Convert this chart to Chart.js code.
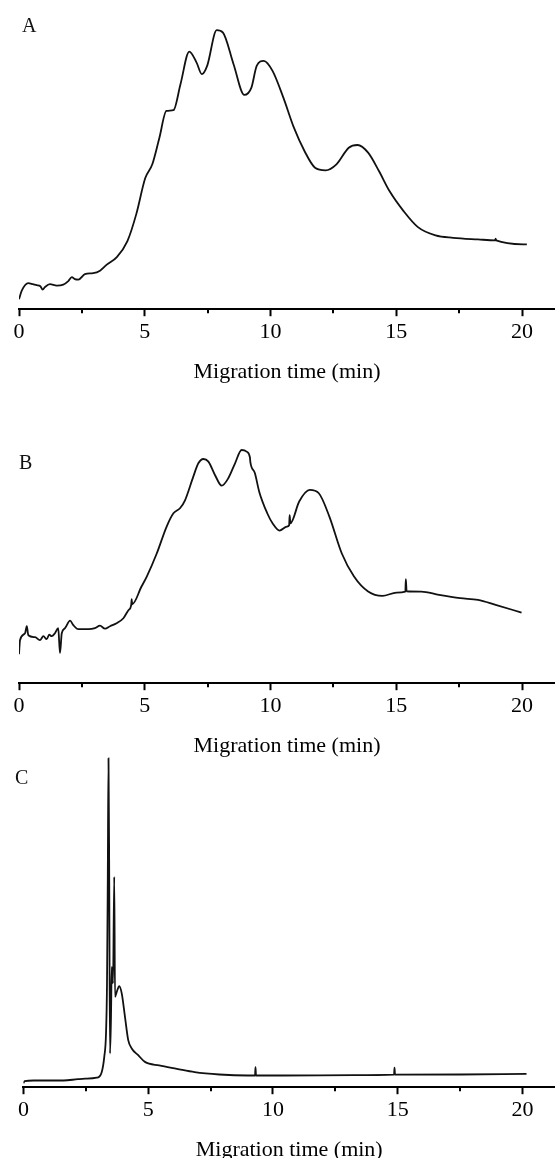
<!DOCTYPE html>
<html>
<head>
<meta charset="utf-8">
<script src="https://cdn.jsdelivr.net/npm/chart.js@4.4.1/dist/chart.umd.min.js"></script>
<style>
  html, body { margin: 0; padding: 0; background: #fff; overflow: hidden; }
  #page { position: relative; width: 555px; height: 1158px; overflow: hidden; background: #fff; }
  #page canvas { position: absolute; left: 0; }
  .panel-label { position: absolute; font-family: "Liberation Serif", "Times New Roman", serif; font-size: 20px; line-height: 1; color: #111; }
</style>
</head>
<body>
<div id="page">
  <canvas id="chartA" width="555" height="389" style="top:0px"></canvas>
  <canvas id="chartB" width="555" height="373" style="top:390px"></canvas>
  <canvas id="chartC" width="555" height="417" style="top:750px"></canvas>
  <div class="panel-label" style="left:22px; top:15px">A</div>
  <div class="panel-label" style="left:19px; top:452px">B</div>
  <div class="panel-label" style="left:15px; top:767px">C</div>
</div>
<script>
// electropherograms: migration time (min) vs detector signal (arbitrary units)
const timeA = [0, 0.11, 0.37, 0.55, 0.70, 0.85, 0.94, 1.03, 1.23, 1.50, 1.76, 1.96, 2.10, 2.22, 2.36, 2.62, 2.95,
  3.22, 3.49, 3.89, 4.31, 4.66, 5.02, 5.30, 5.58, 5.86, 6.14, 6.42, 6.77, 7.06, 7.27, 7.48, 7.86, 8.11, 8.53,
  8.96, 9.24, 9.45, 9.73, 10.08, 10.51, 10.93, 11.35, 11.77, 12.19, 12.62, 13.11, 13.46, 13.88, 14.31, 14.73,
  15.29, 15.86, 16.56, 17.26, 18.25, 18.93, 18.95, 18.97, 20.19];
const signalA = [10, 18.5, 26, 25, 24, 23, 19.5, 22, 25, 23.5, 24.5, 28, 32, 30, 29.5, 35, 36,
  38.5, 44.5, 52, 68, 94.7, 131, 144.7, 171, 198, 198.7, 224.7, 257.3, 246.3, 234.7, 243, 278.7, 276.3, 244.7,
  214, 221.3, 243, 248, 238, 211.3, 181.3, 158, 141.3, 138.7, 144.7, 161.3, 164, 156.3, 138, 118,
  98, 82, 73.7, 71.3, 69.7, 68.8, 70.5, 68.8, 64.7];

const timeB = [0, 0.04, 0.24, 0.31, 0.37, 0.64, 0.83, 0.97, 1.10, 1.20, 1.30, 1.43, 1.56, 1.63, 1.70, 1.83,
  2.03, 2.16, 2.36, 2.76, 3.02, 3.22, 3.42, 3.62, 3.88, 4.15, 4.35, 4.46, 4.48, 4.50, 4.87, 5.08, 5.48, 5.87,
  6.14, 6.40, 6.60, 6.93, 7.13, 7.33, 7.53, 7.79, 8.06, 8.32, 8.59, 8.85, 9.05, 9.18, 9.20, 9.38, 9.55, 9.87,
  10.08, 10.36, 10.65, 10.74, 10.76, 10.79, 11.14, 11.56, 11.92, 12.34, 12.83, 13.32, 13.88, 14.45, 15.01,
  15.36, 15.38, 15.41, 15.99, 16.70, 17.54, 18.25, 18.95, 19.98];
const signalB = [29, 43, 50, 57, 48, 46, 43, 47, 44, 48.5, 47, 50, 55, 30, 50, 55,
  62.5, 58, 54, 54, 55, 57.5, 54.5, 57, 60, 65, 73, 78, 84, 79, 96.7, 106.7, 130, 156.7,
  170, 175, 183, 206.7, 220, 224.3, 221.6, 208.3, 197.6, 205, 220, 233.3, 231.7, 226, 221, 210, 191.6, 170,
  160, 152.7, 156.7, 158, 168, 160, 181.7, 193.3, 190, 166.7, 130, 106.7, 91.7, 87.3, 90.7,
  91.7, 104, 92, 91.7, 88.3, 85, 83.3, 78.3, 70.7];

const timeC = [0, 0.05, 0.41, 1.61, 2.18, 2.47, 2.94, 3.14, 3.24, 3.31, 3.35, 3.38, 3.41, 3.44, 3.47, 3.51,
  3.54, 3.59, 3.64, 3.67, 3.74, 3.84, 3.94, 4.07, 4.20, 4.34, 4.60, 4.87, 5.44, 6.15, 6.86, 7.85, 8.99,
  9.28, 9.30, 9.32, 10.41, 13.24, 14.85, 14.87, 14.89, 17.5, 20.16];
const signalC = [4, 6, 6.7, 6.7, 8, 8.5, 9.5, 15.3, 30.3, 53.7, 103.7, 203.7, 328.7, 203.7, 33.7, 70.3,
  120.3, 103.7, 210.3, 90.3, 95.3, 101, 93.7, 70.3, 47, 38.7, 32, 25.3, 21.7, 18.3, 15, 12.7, 11.7,
  11.7, 20, 11.7, 11.7, 12, 12.5, 19.5, 12.5, 12.7, 13.3];

const majorStep = 5;
const minorTickValues = [2.5, 7.5, 12.5, 17.5];
const axisTitle = 'Migration time (min)';

const serif = '"Liberation Serif", "Times New Roman", serif';

// short half-length ticks between the labelled ones
const minorTicks = {
  id: 'minorTicks',
  afterDraw(chart, args, opts) {
    const sx = chart.scales.x;
    const ctx = chart.ctx;
    ctx.save();
    ctx.strokeStyle = '#000';
    ctx.lineWidth = 2;
    minorTickValues.forEach(v => {
      const px = Math.round(sx.getPixelForValue(v));
      ctx.beginPath();
      ctx.moveTo(px, sx.top);
      ctx.lineTo(px, sx.top + opts.length);
      ctx.stroke();
    });
    ctx.restore();
  }
};

function makeChart(id, times, signal, left, xMax, yMax) {
  const points = times.map((t, i) => ({ x: t, y: signal[i] }));
  return new Chart(document.getElementById(id), {
    type: 'line',
    data: {
      datasets: [{
        data: points,
        borderColor: '#111',
        borderWidth: 1.8,
        pointRadius: 0,
        fill: false,
        cubicInterpolationMode: 'monotone'
      }]
    },
    options: {
      responsive: false,
      animation: false,
      layout: { padding: { left: left, right: 0, top: 0, bottom: 0 } },
      plugins: {
        legend: { display: false },
        tooltip: { enabled: false },
        minorTicks: { length: 4 }
      },
      scales: {
        x: {
          type: 'linear',
          min: 0,
          max: xMax,
          border: { display: true, color: '#000', width: 2 },
          grid: { drawOnChartArea: false, drawTicks: true, tickLength: 7, tickWidth: 2, tickColor: '#000' },
          ticks: {
            stepSize: majorStep,
            includeBounds: false,
            maxRotation: 0,
            padding: 3,
            color: '#000',
            font: { family: serif, size: 22 }
          },
          title: {
            display: true,
            text: axisTitle,
            color: '#000',
            font: { family: serif, size: 22 },
            padding: { top: 10, bottom: 4 }
          }
        },
        y: { display: false, min: 0, max: yMax }
      }
    },
    plugins: [minorTicks]
  });
}

makeChart('chartA', timeA, signalA, 19, 21.31, 308.8);
makeChart('chartB', timeB, signalB, 19, 21.31, 293.3);
makeChart('chartC', timeC, signalC, 23.4, 21.3, 337);
</script>
</body>
</html>
